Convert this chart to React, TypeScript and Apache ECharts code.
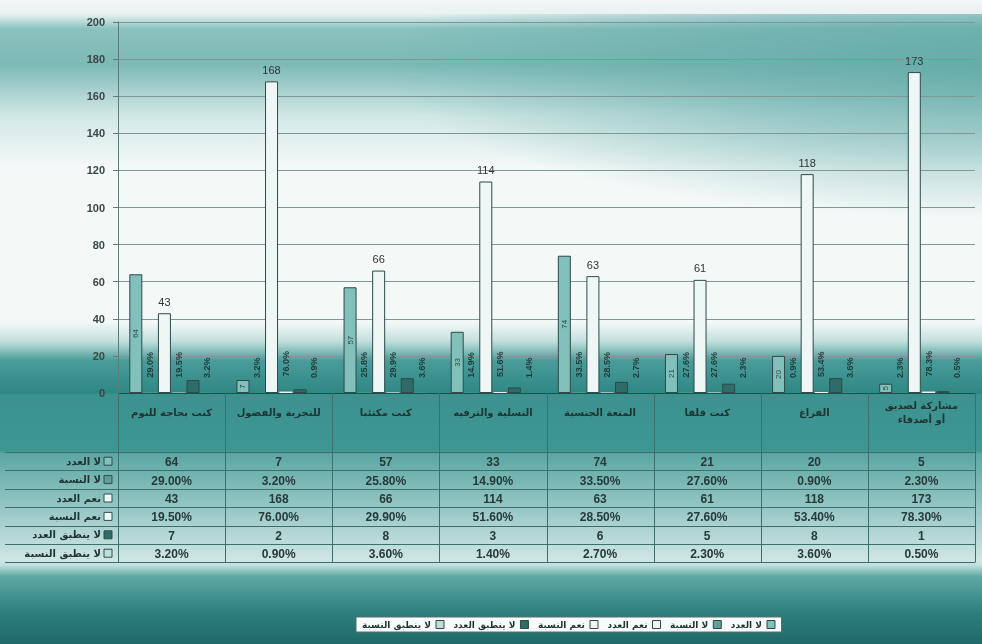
import React, { useEffect, useRef } from "react";
import * as echarts from "echarts";

const categories = [
  "كنت بحاجة للنوم",
  "للتجربة والفضول",
  "كنت مكتئبا",
  "التسلية والترفيه",
  "المتعة الجنسية",
  "كنت قلقا",
  "الفراغ",
  "مشاركة لصديق\nأو أصدقاء",
];
const noCount = [64, 7, 57, 33, 74, 21, 20, 5];
const noPct = [29.0, 3.2, 25.8, 14.9, 33.5, 27.6, 0.9, 2.3];
const yesCount = [43, 168, 66, 114, 63, 61, 118, 173];
const yesPct = [19.5, 76.0, 29.9, 51.6, 28.5, 27.6, 53.4, 78.3];
const naCount = [7, 2, 8, 3, 6, 5, 8, 1];
const naPct = [3.2, 0.9, 3.6, 1.4, 2.7, 2.3, 3.6, 0.5];
const seriesNames = [
  "لا العدد",
  "لا النسبة",
  "نعم العدد",
  "نعم النسبة",
  "لا ينطبق العدد",
  "لا ينطبق النسبة",
];
const seriesColors = ["#82c0bc", "#5f9e9b", "#eef7f6", "#eef7f6", "#2f6b69", "#bfe0dd"];
const yMin = 0;
const yMax = 200;
const yInterval = 20;

const W = 982;
const H = 644;
const GRID_L = 118;
const GRID_R = 7;
const GRID_T = 22;
const GRID_B = 251;

const FONT = "'Liberation Sans', 'DejaVu Sans', Arial, sans-serif";
const AR_FONT = "'DejaVu Sans', 'Liberation Sans', sans-serif";

export default function App() {
  const ref = useRef<HTMLDivElement>(null);
  useEffect(() => {
    if (!ref.current) return;
    const chart = echarts.init(ref.current, undefined, { renderer: "svg" });

    const pctArrays = [noPct, yesPct, naPct];
    const tableRows: string[][] = [
      noCount.map((v) => String(v)),
      noPct.map((v) => v.toFixed(2) + "%"),
      yesCount.map((v) => String(v)),
      yesPct.map((v) => v.toFixed(2) + "%"),
      naCount.map((v) => String(v)),
      naPct.map((v) => v.toFixed(2) + "%"),
    ];

    const plotW = W - GRID_L - GRID_R;
    const colW = plotW / categories.length;
    const axisY = H - GRID_B;
    const tableTop = 452;
    const rowH = 18.4;
    const tableBottom = tableTop + rowH * tableRows.length;

    const graphics: any[] = [];
    graphics.push({
      type: "rect",
      z: -10,
      silent: true,
      shape: { x: 0, y: 0, width: W, height: H },
      style: {
        fill: new echarts.graphic.LinearGradient(0, 0, 0, 1, [
          { offset: 0, color: "#f2f7f7" },
          { offset: 0.022, color: "#e8f2f1" },
          { offset: 0.045, color: "#8ac2bf" },
          { offset: 0.1, color: "#7db9b6" },
          { offset: 0.18, color: "#d2e8e6" },
          { offset: 0.26, color: "#f4f9f8" },
          { offset: 0.5, color: "#f4f9f8" },
          { offset: 0.53, color: "#c2dfdc" },
          { offset: 0.56, color: "#4a9c99" },
          { offset: 0.61, color: "#2f8784" },
          { offset: 0.613, color: "#3b928f" },
          { offset: 0.7, color: "#3e9693" },
          { offset: 0.705, color: "#5ca7a4" },
          { offset: 0.87, color: "#cfe6e4" },
          { offset: 0.878, color: "#c0dfdc" },
          { offset: 0.895, color: "#5ea8a5" },
          { offset: 0.95, color: "#2d807d" },
          { offset: 1, color: "#1f6a68" },
        ]),
      },
    });
    // flattened radial glow at top-right
    graphics.push({
      type: "rect",
      z: -9,
      silent: true,
      x: 0,
      y: 14,
      scaleX: 1,
      scaleY: 0.25,
      shape: { x: 0, y: 0, width: W, height: 2400 },
      style: {
        fill: new echarts.graphic.RadialGradient(
          1000,
          200,
          620,
          [
            { offset: 0, color: "rgba(98,170,167,0.85)" },
            { offset: 0.5, color: "rgba(98,170,167,0.5)" },
            { offset: 1, color: "rgba(98,170,167,0)" },
          ],
          true
        ),
      },
    });

    // table frame lines
    const lineStyle = { stroke: "#3d6f6d", lineWidth: 1 };
    for (let k = 0; k <= categories.length; k++) {
      const x = Math.round(GRID_L + k * colW) + 0.5;
      graphics.push({
        type: "line",
        silent: true,
        z: 5,
        shape: { x1: x, y1: axisY, x2: x, y2: tableBottom },
        style: lineStyle,
      });
    }
    for (let r = 0; r <= tableRows.length; r++) {
      const y = Math.round(tableTop + r * rowH) + 0.5;
      graphics.push({
        type: "line",
        silent: true,
        z: 5,
        shape: { x1: 5, y1: y, x2: W - GRID_R, y2: y },
        style: lineStyle,
      });
    }
    // row labels and values
    tableRows.forEach((row, r) => {
      const cy = tableTop + r * rowH + rowH / 2;
      graphics.push({
        type: "rect",
        silent: true,
        z: 6,
        shape: { x: 104, y: cy - 4, width: 8, height: 8 },
        style: { fill: seriesColors[r], stroke: "#2f4f4e", lineWidth: 1 },
      });
      graphics.push({
        type: "text",
        silent: true,
        z: 6,
        x: 101,
        y: cy,
        style: {
          text: seriesNames[r],
          align: "right",
          verticalAlign: "middle",
          font: "bold 10px " + AR_FONT,
          fill: "#1f3332",
        },
      });
      row.forEach((val, c) => {
        graphics.push({
          type: "text",
          silent: true,
          z: 6,
          x: GRID_L + c * colW + colW / 2,
          y: cy + 1,
          style: {
            text: val,
            align: "center",
            verticalAlign: "middle",
            font: "bold 12px " + FONT,
            fill: "#263a39",
          },
        });
      });
    });

    const barBase = {
      type: "bar",
      barWidth: 13,
      barGap: "10%",
      barCategoryGap: "20%",
      itemStyle: { borderColor: "#2c4a49", borderWidth: 1 },
    };
    const pctLabel = (arr: number[]) => ({
      show: true,
      position: "top",
      rotate: 90,
      align: "left",
      verticalAlign: "middle",
      distance: 15,
      fontSize: 9,
      fontWeight: "bold",
      fontFamily: FONT,
      color: "#1f3a39",
      formatter: (p: any) => arr[p.dataIndex].toFixed(1) + "%",
    });

    const series: any[] = [
      {
        ...barBase,
        name: seriesNames[0],
        data: noCount,
        itemStyle: { ...barBase.itemStyle, color: seriesColors[0] },
        label: {
          show: true,
          position: "inside",
          rotate: 90,
          fontSize: 8,
          fontFamily: FONT,
          color: "#2c4a49",
        },
      },
      {
        ...barBase,
        name: seriesNames[1],
        data: noPct.map((v) => v / 100),
        itemStyle: { ...barBase.itemStyle, color: seriesColors[1], borderWidth: 0 },
        label: pctLabel(pctArrays[0]),
      },
      {
        ...barBase,
        name: seriesNames[2],
        data: yesCount,
        itemStyle: { ...barBase.itemStyle, color: seriesColors[2] },
        label: {
          show: true,
          position: "top",
          distance: 6,
          fontSize: 11,
          fontFamily: FONT,
          color: "#333",
        },
      },
      {
        ...barBase,
        name: seriesNames[3],
        data: yesPct.map((v) => v / 100),
        itemStyle: { ...barBase.itemStyle, color: seriesColors[3], borderWidth: 0 },
        label: pctLabel(pctArrays[1]),
      },
      {
        ...barBase,
        name: seriesNames[4],
        data: naCount,
        itemStyle: { ...barBase.itemStyle, color: seriesColors[4] },
      },
      {
        ...barBase,
        name: seriesNames[5],
        data: naPct.map((v) => v / 100),
        itemStyle: { ...barBase.itemStyle, color: seriesColors[5], borderWidth: 0 },
        label: pctLabel(pctArrays[2]),
      },
    ];

    chart.setOption({
      animation: false,
      grid: { left: GRID_L, right: GRID_R, top: GRID_T, bottom: GRID_B, containLabel: false },
      legend: {
        data: seriesNames.slice().reverse(),
        left: 356,
        top: 617,
        align: "right",
        icon: "rect",
        itemWidth: 8,
        itemHeight: 8,
        itemGap: 9,
        padding: [3, 6],
        backgroundColor: "#f8fbfb",
        borderColor: "#5a6f6e",
        borderWidth: 1,
        textStyle: { fontSize: 9, fontFamily: AR_FONT, color: "#1f3332", fontWeight: "bold" },
        itemStyle: { borderColor: "#2c4a49", borderWidth: 1 },
      },
      xAxis: {
        type: "category",
        data: categories,
        axisLine: { lineStyle: { color: "#2c4a49", width: 1 } },
        axisTick: { show: false },
        axisLabel: {
          interval: 0,
          margin: 19,
          verticalAlign: "middle",
          fontSize: 10,
          lineHeight: 14,
          fontWeight: "bold",
          fontFamily: AR_FONT,
          color: "#1f3332",
        },
      },
      yAxis: {
        type: "value",
        min: yMin,
        max: yMax,
        interval: yInterval,
        axisLine: { show: true, lineStyle: { color: "#5d7c7a" } },
        axisTick: { show: true, length: 5, lineStyle: { color: "#5d7c7a" } },
        axisLabel: {
          margin: 13,
          fontSize: 11,
          fontWeight: "bold",
          fontFamily: FONT,
          color: "#3a4746",
        },
        splitLine: { lineStyle: { color: "#7f9896", width: 1 } },
      },
      graphic: graphics,
      series,
    });

    return () => chart.dispose();
  }, []);

  return (
    <div
      ref={ref}
      style={{ position: "fixed", left: 0, top: 0, width: W, height: H }}
    />
  );
}
